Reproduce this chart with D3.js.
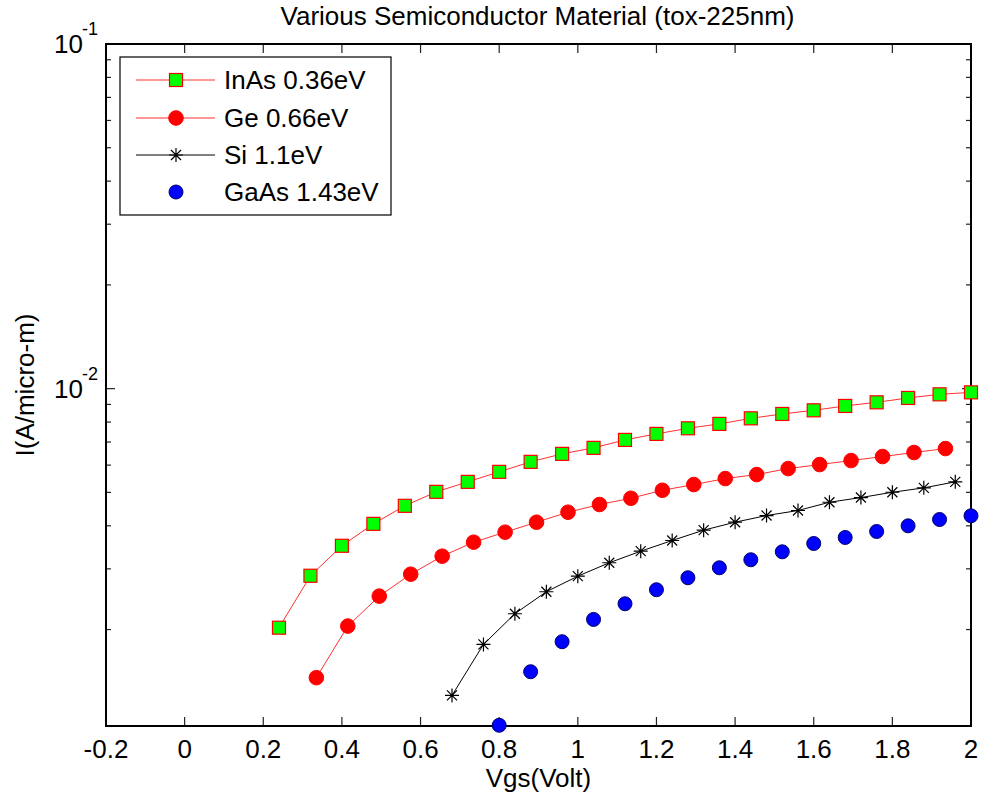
<html>
<head>
<meta charset="utf-8">
<script src="https://d3js.org/d3.v7.min.js"></script>
<style>
  body { margin: 0; background: #fff; }
  text { font-family: "Liberation Sans", Arial, sans-serif; fill: #000; }
</style>
</head>
<body>
<svg id="vis"></svg>
<script>
const width = 983, height = 803;
const plotLeft = 106, plotRight = 971, plotTop = 44, plotBottom = 726;

// data
const inasX = [0.24, 0.32, 0.40, 0.48, 0.56, 0.64, 0.72, 0.80, 0.88, 0.96, 1.04, 1.12,
               1.20, 1.28, 1.36, 1.44, 1.52, 1.60, 1.68, 1.76, 1.84, 1.92, 2.00];
const inasY = [0.002025, 0.002865, 0.003500, 0.004052, 0.004571, 0.005019, 0.005365, 0.005736,
               0.006132, 0.006468, 0.006733, 0.007101, 0.007391, 0.007672, 0.007902, 0.008201,
               0.008445, 0.008652, 0.008909, 0.009127, 0.009398, 0.009627, 0.009756];

const geX = [0.335, 0.415, 0.495, 0.575, 0.655, 0.735, 0.815, 0.895, 0.975, 1.055, 1.135,
             1.215, 1.295, 1.375, 1.455, 1.535, 1.615, 1.695, 1.775, 1.855, 1.935];
const geY = [0.001450, 0.002047, 0.002500, 0.002895, 0.003265, 0.003585, 0.003833, 0.004097,
             0.004380, 0.004611, 0.004808, 0.005072, 0.005268, 0.005484, 0.005633, 0.005863,
             0.006022, 0.006185, 0.006353, 0.006526, 0.006702];

const siX = [0.68, 0.76, 0.84, 0.92, 1.00, 1.08, 1.16, 1.24, 1.32, 1.40, 1.48, 1.56,
             1.64, 1.72, 1.80, 1.88, 1.96];
const siY = [0.001288, 0.001811, 0.002223, 0.002575, 0.002857, 0.003125, 0.003376, 0.003626,
             0.003885, 0.004097, 0.004284, 0.004430, 0.004682, 0.004831, 0.005005, 0.005154,
             0.005365];

const gaasX = [0.80, 0.88, 0.96, 1.04, 1.12, 1.20, 1.28, 1.36, 1.44, 1.52, 1.60, 1.68,
               1.76, 1.84, 1.92, 2.00];
const gaasY = [0.001055, 0.001509, 0.001844, 0.002140, 0.002376, 0.002610, 0.002827, 0.003022,
               0.003188, 0.003362, 0.003554, 0.003700, 0.003851, 0.003999, 0.004172, 0.004276];

const xTicks = [-0.2, 0, 0.2, 0.4, 0.6, 0.8, 1, 1.2, 1.4, 1.6, 1.8, 2];
const xTickLabels = ['-0.2', '0', '0.2', '0.4', '0.6', '0.8', '1', '1.2', '1.4', '1.6', '1.8', '2'];
const yMajor = [0.1, 0.01];
const yMajorExp = ['-1', '-2'];
const yDomain = [0.00105, 0.1];

const series = [
  {name: 'InAs 0.36eV', xs: inasX, ys: inasY, line: '#ff3030', marker: 'square'},
  {name: 'Ge 0.66eV', xs: geX, ys: geY, line: '#ff3030', marker: 'circleRed'},
  {name: 'Si 1.1eV', xs: siX, ys: siY, line: '#000', marker: 'star'},
  {name: 'GaAs 1.43eV', xs: gaasX, ys: gaasY, line: null, marker: 'circleBlue'}
];

let svg = d3.select('#vis').attr('width', width).attr('height', height);

let x = d3.scaleLinear().domain([-0.2, 2]).range([plotLeft, plotRight]);
let y = d3.scaleLog().domain(yDomain).range([plotBottom, plotTop]);

// ticks (inward, mirrored)
let tickG = svg.append('g').attr('stroke', '#222').attr('stroke-width', 1.2);
xTicks.forEach(t => {
  tickG.append('line').attr('x1', x(t)).attr('x2', x(t)).attr('y1', plotBottom).attr('y2', plotBottom - 9);
  tickG.append('line').attr('x1', x(t)).attr('x2', x(t)).attr('y1', plotTop).attr('y2', plotTop + 9);
});
let minor = y.ticks().filter(t => t >= yDomain[0] && t <= yDomain[1]);
minor.forEach(t => {
  let major = yMajor.some(m => Math.abs(m - t) < 1e-9);
  let len = major ? 9 : 5;
  tickG.append('line').attr('x1', plotLeft).attr('x2', plotLeft + len).attr('y1', y(t)).attr('y2', y(t));
  tickG.append('line').attr('x1', plotRight).attr('x2', plotRight - len).attr('y1', y(t)).attr('y2', y(t));
});

// axes box
svg.append('rect').attr('x', plotLeft).attr('y', plotTop)
  .attr('width', plotRight - plotLeft).attr('height', plotBottom - plotTop)
  .attr('fill', 'none').attr('stroke', '#000').attr('stroke-width', 2);

// tick labels
svg.append('g').selectAll('text').data(xTicks).enter().append('text')
  .attr('x', d => x(d)).attr('y', plotBottom + 32)
  .attr('text-anchor', 'middle').attr('font-size', 26)
  .text((d, i) => xTickLabels[i]);

yMajor.forEach((m, i) => {
  let g = svg.append('g').attr('transform', `translate(0,${y(m)})`);
  g.append('text').attr('x', 83).attr('y', 9).attr('text-anchor', 'end')
    .attr('font-size', 26).text('10');
  g.append('text').attr('x', 82).attr('y', -9).attr('font-size', 18)
    .text(yMajorExp[i]);
});

// titles
svg.append('text').attr('x', (plotLeft + plotRight) / 2 - 1).attr('y', 25).attr('text-anchor', 'middle')
  .attr('font-size', 26).text('Various Semiconductor Material (tox-225nm)');
svg.append('text').attr('x', (plotLeft + plotRight) / 2).attr('y', 787).attr('text-anchor', 'middle')
  .attr('font-size', 26).text('Vgs(Volt)');
svg.append('text').attr('transform', `translate(34,${(plotTop + plotBottom) / 2}) rotate(-90)`)
  .attr('text-anchor', 'middle').attr('font-size', 26).text('I(A/micro-m)');

function drawMarker(g, type, cx, cy) {
  if (type === 'square') {
    g.append('rect').attr('x', cx - 6.5).attr('y', cy - 6.5).attr('width', 13).attr('height', 13)
      .attr('fill', '#00ff00').attr('stroke', '#ff0000').attr('stroke-width', 1.2);
  } else if (type === 'circleRed') {
    g.append('circle').attr('cx', cx).attr('cy', cy).attr('r', 7.3)
      .attr('fill', '#ff0000').attr('stroke', '#ff0000');
  } else if (type === 'circleBlue') {
    g.append('circle').attr('cx', cx).attr('cy', cy).attr('r', 7)
      .attr('fill', '#0000ff').attr('stroke', '#000066').attr('stroke-width', 1);
  } else if (type === 'star') {
    let r = 7, d = 5;
    g.append('path')
      .attr('d', `M${cx - r},${cy}H${cx + r}M${cx},${cy - r}V${cy + r}` +
        `M${cx - d},${cy - d}L${cx + d},${cy + d}M${cx - d},${cy + d}L${cx + d},${cy - d}`)
      .attr('stroke', '#000').attr('stroke-width', 1.2).attr('fill', 'none');
  }
}

let plot = svg.append('g');
series.forEach(s => {
  let pts = s.xs.map((v, i) => [v, s.ys[i]]);
  if (s.line) {
    plot.append('path').datum(pts)
      .attr('d', d3.line().x(d => x(d[0])).y(d => y(d[1])))
      .attr('fill', 'none').attr('stroke', s.line).attr('stroke-width', 1);
  }
  pts.forEach(p => drawMarker(plot, s.marker, x(p[0]), y(p[1])));
});

// legend
let lg = svg.append('g');
lg.append('rect').attr('x', 120).attr('y', 57).attr('width', 271).attr('height', 158)
  .attr('fill', '#fff').attr('stroke', '#000').attr('stroke-width', 1.2);
const legendY = [80, 118, 155, 192];
series.forEach((s, i) => {
  let cy = legendY[i];
  if (s.line) {
    lg.append('line').attr('x1', 136).attr('x2', 215).attr('y1', cy).attr('y2', cy)
      .attr('stroke', s.line).attr('stroke-width', 1);
  }
  drawMarker(lg, s.marker, 176, cy);
  lg.append('text').attr('x', 224).attr('y', cy + 9).attr('font-size', 26).text(s.name);
});
</script>
</body>
</html>
